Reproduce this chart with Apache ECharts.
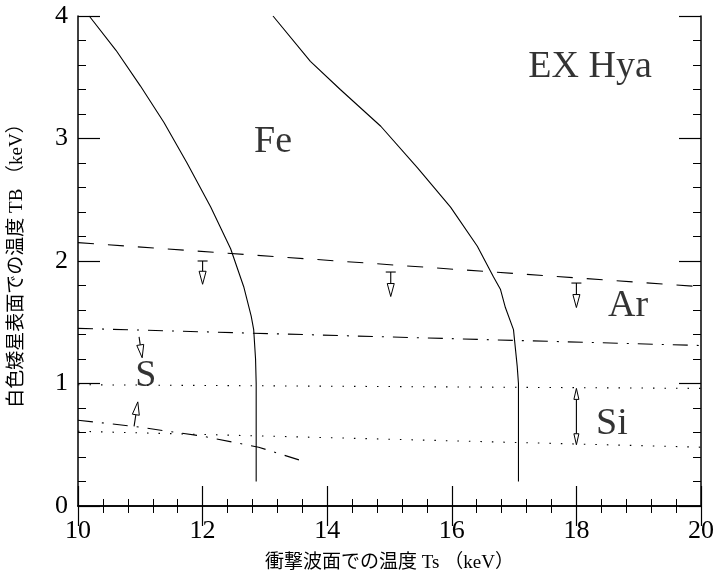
<!DOCTYPE html>
<html>
<head>
<meta charset="utf-8">
<script src="https://cdn.jsdelivr.net/npm/echarts@6/dist/echarts.min.js"></script>
<style>html,body{margin:0;padding:0;background:#fff}#c{width:718px;height:578px}</style>
</head>
<body>
<div id="c"></div>
<script>
// Fe boundary curves [Ts, TB]
var feLeft = [[10.18,4],[10.61,3.72],[11.0,3.43],[11.38,3.13],[11.75,2.8],[12.13,2.44],[12.45,2.1],[12.66,1.79],[12.78,1.55],[12.82,1.44],[12.85,1.2],[12.86,1.0],[12.86,0.2]];
var feRight = [[13.13,4],[13.73,3.63],[14.21,3.40],[14.86,3.10],[15.45,2.76],[15.98,2.44],[16.41,2.12],[16.67,1.87],[16.78,1.77],[16.86,1.62],[16.99,1.44],[17.05,1.14],[17.07,1.0],[17.07,0.2]];
// Ar (dashed), S (dash-dot), Si (dotted)
var arLine = [[10,2.15],[20,1.79]];
var sUpper = [[10,1.45],[20,1.31]];
var sLower = [[10,0.70],[10.9,0.65],[12,0.57],[12.9,0.48],[13.65,0.36]];
var siUpper = [[10,0.99],[20,0.96]];
var siLower = [[10,0.61],[20,0.48]];
// arrows: [x0, y0, x1, y1, doubleHead, cap]
var arrows = [
  [12.0,2.00,12.0,1.81,0,1],
  [15.02,1.91,15.02,1.71,0,1],
  [18.0,1.82,18.0,1.62,0,1],
  [10.98,1.38,11.03,1.21,0,0],
  [10.90,0.65,10.96,0.85,0,0],
  [18.0,0.50,18.0,0.96,1,0]
];
// text labels
var labelNames = ['EX Hya','Fe','Ar','S','Si'];
var labelPos = [[18.22,3.58],[13.13,2.97],[18.83,1.63],[11.09,1.06],[18.57,0.67]];

var serif = '"Liberation Serif","Times New Roman",serif';
var titleFont = '"Liberation Serif","Noto Sans CJK JP",serif';

function lineSeries(data, type){
  return {type:'line', data:data, showSymbol:false, symbol:'none', silent:true, animation:false,
    lineStyle:{color:'#000', width:1.1, type:type}, z:3};
}

var chart = echarts.init(document.getElementById('c'));
var axisCommon = {
  axisLine:{show:true, lineStyle:{color:'#000', width:1.5}},
  splitLine:{show:false}
};
chart.setOption({
  animation:false,
  backgroundColor:'#fff',
  grid:{left:77, right:17, top:16, bottom:71, containLabel:false},
  xAxis:[
    Object.assign({type:'value', min:10, max:20, interval:2, position:'bottom',
      axisTick:{inside:true, length:20, lineStyle:{color:'#000', width:1.2}},
      minorTick:{show:true, splitNumber:5, length:7, lineStyle:{color:'#000', width:1}},
      axisLabel:{fontFamily:serif, fontSize:26, color:'#000', margin:12},
      name:'衝撃波面での温度 Ts （keV）', nameLocation:'middle', nameGap:48,
      nameTextStyle:{fontFamily:titleFont, fontSize:19, color:'#000'}
    }, axisCommon),
    Object.assign({type:'value', min:10, max:20, interval:2, position:'top',
      axisTick:{inside:true, length:20, lineStyle:{color:'#000', width:1.2}},
      minorTick:{show:true, splitNumber:5, length:7, lineStyle:{color:'#000', width:1}},
      axisLabel:{show:false}
    }, axisCommon)
  ],
  yAxis:[
    Object.assign({type:'value', min:0, max:4, interval:1, position:'left',
      axisTick:{inside:true, length:22, lineStyle:{color:'#000', width:1.2}},
      minorTick:{show:true, splitNumber:5, length:8, lineStyle:{color:'#000', width:1}},
      axisLabel:{fontFamily:serif, fontSize:26, color:'#000', margin:10},
      name:'白色矮星表面での温度 TB （keV）', nameLocation:'middle', nameGap:51,
      nameTextStyle:{fontFamily:titleFont, fontSize:19, color:'#000'}
    }, axisCommon),
    Object.assign({type:'value', min:0, max:4, interval:1, position:'right',
      axisTick:{inside:true, length:22, lineStyle:{color:'#000', width:1.2}},
      minorTick:{show:true, splitNumber:5, length:8, lineStyle:{color:'#000', width:1}},
      axisLabel:{show:false}
    }, axisCommon)
  ],
  series:[
    lineSeries(feLeft,'solid'),
    lineSeries(feRight,'solid'),
    lineSeries(arLine,[16,14]),
    lineSeries(sUpper,[15,9,2,9]),
    lineSeries(sLower,[15,9,2,9]),
    lineSeries(siUpper,[1.5,10]),
    lineSeries(siLower,[1.5,10]),
    {
      type:'custom', silent:true, animation:false, z:4,
      data:arrows,
      encode:{x:[0,2], y:[1,3]},
      renderItem:function(params, api){
        var p0 = api.coord([api.value(0), api.value(1)]);
        var p1 = api.coord([api.value(2), api.value(3)]);
        var dbl = api.value(4), cap = api.value(5);
        var dx = p1[0]-p0[0], dy = p1[1]-p0[1];
        var L = Math.sqrt(dx*dx+dy*dy);
        var ux = dx/L, uy = dy/L, nx = -uy, ny = ux;
        var hl = dbl ? 11 : 13, hw = dbl ? 2.5 : 3.5;
        function head(tip, sx, sy){
          var bx = tip[0]-sx*hl, by = tip[1]-sy*hl;
          return {type:'polygon', shape:{points:[tip,[bx+nx*hw,by+ny*hw],[bx-nx*hw,by-ny*hw]]},
            style:{fill:'#fff', stroke:'#000', lineWidth:1}};
        }
        var children = [
          {type:'line', shape:{x1:p0[0], y1:p0[1], x2:p1[0]-ux*hl, y2:p1[1]-uy*hl}, style:{stroke:'#000', lineWidth:1.1}},
          head(p1, ux, uy)
        ];
        if (dbl) {
          children[0].shape.x1 = p0[0]+ux*hl; children[0].shape.y1 = p0[1]+uy*hl;
          children.push(head(p0, -ux, -uy));
        }
        if (cap) {
          children.push({type:'line', shape:{x1:p0[0]-5, y1:p0[1], x2:p0[0]+5, y2:p0[1]}, style:{stroke:'#000', lineWidth:1.1}});
        }
        return {type:'group', children:children};
      }
    },
    {
      type:'scatter', silent:true, animation:false, symbolSize:0, z:5,
      data:labelNames.map(function(n,i){return {name:n, value:labelPos[i]};}),
      label:{show:true, position:'inside', formatter:'{b}', fontFamily:serif, fontSize:38, color:'#000'}
    }
  ]
});
</script>
</body>
</html>
